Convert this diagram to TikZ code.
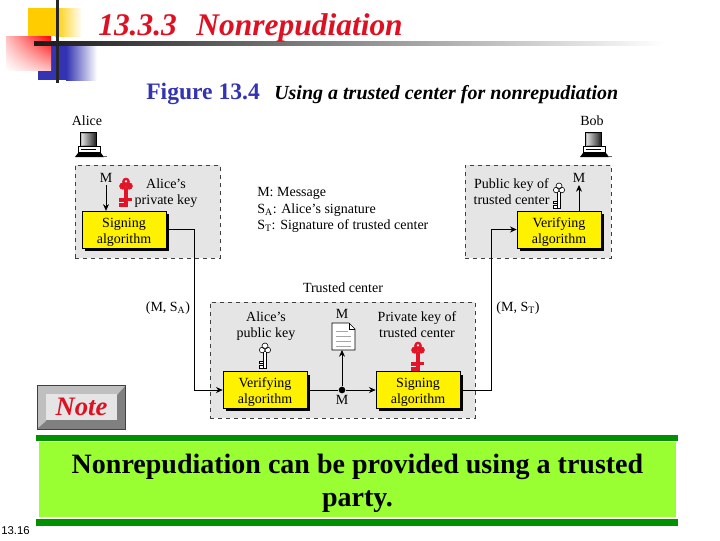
\documentclass[tikz,border=0pt]{standalone}
\usepackage{fontspec}
\setmainfont{Liberation Serif}
\newfontfamily\pagefont{Liberation Sans}
\usetikzlibrary{arrows.meta,shadows,shadings}
\definecolor{slideblue}{RGB}{51,51,179}
\definecolor{slidered}{RGB}{221,17,34}
\definecolor{slidegold}{RGB}{255,204,0}
\definecolor{panelgray}{RGB}{229,229,229}
\definecolor{bardark}{RGB}{0,145,0}
\definecolor{barlight}{RGB}{153,255,51}
\definecolor{keyred}{RGB}{225,20,40}
\newcommand{\keybody}{
  \draw[pic actions, line width=0.45pt] (0,3) circle (3) (-2.8,7) circle (2.8) (2.8,7) circle (2.8);
  \draw[pic actions, line width=0.45pt] (-1.5,9) rectangle (1.5,25);
  \draw[pic actions, line width=0.45pt] (-5.5,18) rectangle (-1.5,20) (-5.5,22) rectangle (-1.5,25);
  \fill[white] (0,3) circle (1.1);
  \path[pic actions, draw=none] (-1,9) rectangle (1,24);
}
\tikzset{
  panel/.style={draw=black!75, fill=panelgray, dashed, line width=0.7pt},
  algobox/.style={draw=black, fill=yellow, line width=0.5pt, minimum width=63pt, minimum height=27.5pt,
    inner sep=0pt, align=center, font=\fontsize{10.5}{12}\selectfont,
    drop shadow={shadow xshift=2.2pt, shadow yshift=-2.2pt, fill=black, opacity=1}},
  lbl/.style={inner sep=0pt, align=center, font=\fontsize{10.5}{12}\selectfont},
  wire/.style={draw=black, line width=0.6pt},
  wirearrow/.style={wire, -{Stealth[length=5pt,width=4.5pt]}},
  pics/keyicon/.style={code={\keybody}},
  pics/redkeyicon/.style={code={
    \begin{scope}[scale=1.15]\keybody\end{scope}
    \path[pic actions, draw=none] (0,20) rectangle (6,22.5);
  }},
  pics/pcicon/.style={code={
    \shade[left color=black!25, right color=black!85, draw=black, line width=0.4pt] (5,0) rectangle (21,14);
    \shade[left color=black!15, right color=black!75] (7,2) rectangle (19,12);
    \draw[fill=white, line width=0.5pt] (3,14) rectangle (25,20);
    \draw[line width=0.4pt] (6,17) -- (21,17);
    \fill[black] (3,21) -- (26,21) -- (29,25) -- (0,25) -- cycle;
    \fill[black!60] (29,24) rectangle (32,25);
  }}
}
\begin{document}
\begin{tikzpicture}[x=0.75pt, y=-0.75pt]
  \useasboundingbox (0,0) rectangle (720,540);
  % corner squares and rules
  \fill[slidegold] (28,8) rectangle (55,36);
  \shade[left color=slidegold, right color=white] (55,8) rectangle (82,36);
  \fill[slideblue] (38,44) rectangle (66,80);
  \shade[left color=slideblue, right color=white] (66,44) rectangle (97,80);
  \shade[upper right=red, upper left=red!25, lower right=red!25, lower left=white] (6,36) rectangle (51,70);
  \fill[black!85] (55.8,0) rectangle (58.8,83);
  \shade[left color=black!90, right color=white] (34,41.5) rectangle (665,45);
  % headings
  \node[anchor=base west, inner sep=0pt, text=slidered, font=\fontsize{23.6}{25}\selectfont\bfseries\itshape] (title) at (98,35) {13.3.3\hspace{0.62em}Nonrepudiation};
  \node[anchor=base west, inner sep=0pt, text=slideblue, font=\fontsize{17.7}{19}\selectfont\bfseries] (figno) at (146,99) {Figure 13.4};
  \node[anchor=base west, inner sep=0pt, font=\fontsize{15}{17}\selectfont\bfseries\itshape] (figcap) at (274,99) {Using a trusted center for nonrepudiation};
  % panels
  \node[panel, minimum width=108.75pt, minimum height=69.75pt, anchor=north west, inner sep=0pt] (alicebox) at (75,165) {};
  \node[panel, minimum width=109.5pt, minimum height=69.75pt, anchor=north west, inner sep=0pt] (bobbox) at (465,165) {};
  \node[panel, minimum width=198.75pt, minimum height=87pt, anchor=north west, inner sep=0pt] (centerbox) at (210,302) {};
  % people
  \node[lbl] (alice) at (87,121) {Alice};
  \node[lbl] (bob) at (592,121) {Bob};
  \pic at (75,132) {pcicon};
  \pic at (580,132) {pcicon};
  % algorithm boxes
  \node[algobox] (sign1) at (124,229.5) {\mbox{}\\[-1.3pt]Signing\\algorithm};
  \node[algobox] (verify2) at (559,229.5) {\mbox{}\\[-1.3pt]Verifying\\algorithm};
  \node[algobox] (verify1) at (265,390) {\mbox{}\\[-1.3pt]Verifying\\algorithm};
  \node[algobox] (sign2) at (418,390) {\mbox{}\\[-1.3pt]Signing\\algorithm};
  % labels
  \node[lbl] (m1) at (106,178) {M};
  \node[lbl] (alicekey) at (166,193.5) {Alice’s\\private key};
  \node[lbl] (m2) at (579,178) {M};
  \node[lbl] (bobkey) at (511.5,191.5) {Public key of\\trusted center};
  \node[lbl, align=left, anchor=west, font=\fontsize{10.5}{12.4}\selectfont] (legend) at (257,210) {M: Message\\S\textsubscript{A}: Alice’s signature\\S\textsubscript{T}: Signature of trusted center};
  \node[lbl] (trusted) at (343,288) {Trusted center};
  \node[lbl] (msa) at (168,308) {(M, S\textsubscript{A})};
  \node[lbl] (mst) at (518,308) {(M, S\textsubscript{T})};
  \node[lbl] (pubkey) at (266,326) {Alice’s\\public key};
  \node[lbl] (m3) at (342,314) {M};
  \node[lbl] (privkey) at (417,325) {Private key of\\trusted center};
  \node[lbl] (m4) at (342,400) {M};
  % keys
  \pic[draw=keyred, fill=keyred] at (126,178) {redkeyicon};
  \pic[draw=black, fill=white] at (559,183) {keyicon};
  \pic[draw=black, fill=white] at (265,343) {keyicon};
  \pic[draw=keyred, fill=keyred] at (418,342) {redkeyicon};
  % page icon
  \draw[fill=white, line width=0.5pt] (332,323) -- (349,323) -- (355,329) -- (355,350) -- (332,350) -- cycle;
  \draw[line width=0.4pt] (349,323) -- (349,329) -- (355,329);
  \draw[black!35, line width=0.35pt] (336,331) -- (348,331) (336,336) -- (351,336) (336,341) -- (351,341) (336,346) -- (351,346);
  \coordinate (page) at (342,350);
  % connectors
  \coordinate (mtop1) at (106,185);
  \coordinate (mtop2) at (579,185);
  \node[circle, fill=black, inner sep=0pt, minimum size=5pt] (dot) at (342,390) {};
  \draw[wirearrow] (mtop1) -- (mtop1 |- sign1.north);
  \draw[wirearrow] (mtop2 |- verify2.north) -- (mtop2);
  \draw[wirearrow] (sign1.east) -- (194,229.5) |- (verify1.west);
  \draw[wirearrow] (sign2.east) -- (491,390) |- (verify2.west);
  \draw[wire] (verify1.east) -- (dot);
  \draw[wirearrow] (dot) -- (sign2.west);
  \draw[wirearrow] (dot) -- (page);
  % note button
  \node[draw=black!75, fill=black!50, line width=0.8pt, minimum width=66pt, minimum height=33pt, anchor=north west, inner sep=0pt] (notebtn) at (37,385) {};
  \fill[black!25] (38,386) -- (125,386) -- (117,395) -- (46,395) -- (46,421) -- (38,428) -- cycle;
  \node[fill=black!10, minimum width=53pt, minimum height=20pt, inner sep=0pt, text=slidered, font=\fontsize{20}{22}\selectfont\bfseries\itshape] (note) at (81.5,407) {Note};
  % bottom band
  \fill[bardark] (36,435) rectangle (678,441);
  \fill[bardark] (36,519) rectangle (678,526);
  \fill[barlight] (39,442) rectangle (676,517);
  \node[inner sep=0pt, align=center, font=\fontsize{21}{24.75}\selectfont\bfseries] (band) at (357.5,483) {Nonrepudiation can be provided using a trusted\\party.};
  \node[anchor=base west, inner sep=0pt, font=\pagefont\fontsize{8.5}{10}\selectfont] (pageno) at (1,534) {13.16};
\end{tikzpicture}
\end{document}
